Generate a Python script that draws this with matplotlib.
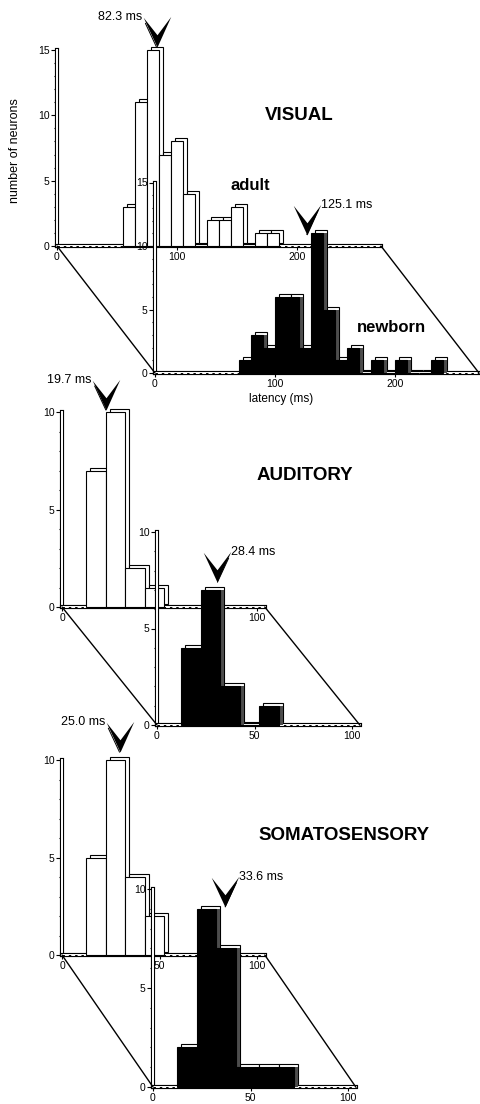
import matplotlib.pyplot as plt
import matplotlib.transforms as mtransforms
import matplotlib.patheffects as pe
from matplotlib.patches import ConnectionPatch
from matplotlib.path import Path
import numpy as np

plt.rcParams['font.family'] = ['Liberation Sans', 'DejaVu Sans']

W, H, DPI = 480, 1104, 100

# latency histograms, 10 ms bins: left edge of first bin (ms) and counts
bin_width = 10
vis_adult_start = 55
vis_adult_counts = [3, 11, 15, 7, 8, 4, 0, 2, 2, 3, 0, 1, 1]
vis_newborn_start = 70
vis_newborn_counts = [1, 3, 2, 6, 6, 2, 11, 5, 1, 2, 0, 1, 0, 1, 0, 0, 1]
aud_adult_start = 12.5
aud_adult_counts = [7, 10, 2, 1]
aud_newborn_start = 12.5
aud_newborn_counts = [4, 7, 2, 0, 1]
som_adult_start = 12.5
som_adult_counts = [5, 10, 4, 2]
som_newborn_start = 12.5
som_newborn_counts = [2, 9, 7, 1, 1, 1]

# mean latency arrows (label, position in ms, height in neurons)
mean_labels = ['82.3 ms', '125.1 ms', '19.7 ms', '28.4 ms', '25.0 ms', '33.6 ms']
arrow_x = [83, 126.5, 22.5, 31, 29.5, 37]
arrow_y = [15.2, 10.9, 10.1, 7.4, 10.4, 9.1]

fig = plt.figure(figsize=(W / DPI, H / DPI), dpi=DPI)

# pixel layout of each histogram: origin, px per ms, px per neuron, xmax, ymax
layout = [
    ((57, 246), 1.2, 13.07, 270, 15),
    ((155, 373), 1.2, 12.7, 270, 15),
    ((62, 607), 1.95, 19.5, 104, 10),
    ((157, 725), 1.95, 19.3, 104, 10),
    ((62, 955), 1.95, 19.5, 104, 10),
    ((153, 1087), 1.95, 19.8, 104, 10),
]
xticks = [[0, 100, 200], [0, 100, 200], [0, 100], [0, 50, 100], [0, 50, 100], [0, 50, 100]]
starts = [vis_adult_start, vis_newborn_start, aud_adult_start, aud_newborn_start,
          som_adult_start, som_newborn_start]
counts = [vis_adult_counts, vis_newborn_counts, aud_adult_counts, aud_newborn_counts,
          som_adult_counts, som_newborn_counts]

slab = [pe.Stroke(linewidth=3.0, foreground='black'), pe.Normal()]
chevron = Path([(0, 0), (-0.45, 0.97), (0, 0.4), (0.45, 1.0), (0, 0)],
               [Path.MOVETO, Path.LINETO, Path.LINETO, Path.LINETO, Path.CLOSEPOLY])

axes = []
for i, ((ox, oy), sx, sy, xmax, ymax) in enumerate(layout):
    ax = fig.add_axes([ox / W, 1 - oy / H, xmax * sx / W, ymax * sy / H])
    ax.set_xlim(0, xmax)
    ax.set_ylim(0, ymax)
    ax.patch.set_visible(False)
    for side in ['top', 'right']:
        ax.spines[side].set_visible(False)
    for side in ['left', 'bottom']:
        ax.spines[side].set_color('white')
        ax.spines[side].set_linewidth(1.4)
        ax.spines[side].set_path_effects(slab)
    ax.axhline(0, color='black', lw=0.7, ls=(0, (2.5, 4)), zorder=2.6, clip_on=False)
    ax.set_yticks(np.arange(0, ymax + 1, 5))
    ax.set_yticks(np.arange(0, ymax + 1, 1), minor=True)
    ax.set_xticks(xticks[i])
    ax.tick_params(axis='y', which='major', length=4.5, width=0.8, pad=1, labelsize=7.5)
    ax.tick_params(axis='y', which='minor', length=2.5, width=0.8)
    ax.tick_params(axis='x', which='major', length=3, width=0.8, pad=1.5, labelsize=7.5)

    x = starts[i] + bin_width * np.arange(len(counts[i]))
    back = ax.transData + mtransforms.ScaledTranslation(4 / DPI, 3 / DPI, fig.dpi_scale_trans)
    side_t = ax.transData + mtransforms.ScaledTranslation(4 / DPI, 0, fig.dpi_scale_trans)
    ax.bar(x, counts[i], width=bin_width, align='edge', color='white', edgecolor='black',
           lw=0.8, transform=back, clip_on=False, zorder=3)
    if i % 2 == 0:
        ax.bar(x, counts[i], width=bin_width, align='edge', color='white', edgecolor='black',
               lw=0.8, clip_on=False, zorder=3.2)
    else:
        ax.bar(x, counts[i], width=bin_width, align='edge', color='0.3', lw=0,
               transform=side_t, clip_on=False, zorder=3.1)
        ax.bar(x, counts[i], width=bin_width, align='edge', color='black', edgecolor='black',
               lw=0.8, clip_on=False, zorder=3.2)

    # mean arrow
    ax.plot([arrow_x[i]], [arrow_y[i]], marker=chevron, markersize=44, color='black',
            markeredgewidth=0, clip_on=False, zorder=6)
    left = i % 2 == 0
    ax.annotate(mean_labels[i], xy=(arrow_x[i], arrow_y[i]),
                xytext=(-14 if left else 14, 30), textcoords='offset pixels',
                ha='right' if left else 'left', va='center', fontsize=9,
                annotation_clip=False, zorder=5,
                arrowprops=dict(arrowstyle='-', lw=0.7, color='black', shrinkA=0, shrinkB=0,
                                relpos=(1, 0.5) if left else (0, 0.5)))
    axes.append(ax)

# perspective lines joining adult and newborn planes
for a, b in [(axes[0], axes[1]), (axes[2], axes[3]), (axes[4], axes[5])]:
    xm = a.get_xlim()[1]
    for xv in [0, xm]:
        fig.add_artist(ConnectionPatch(xyA=(xv, 0), coordsA=a.transData, xyB=(xv, 0),
                                       coordsB=b.transData, color='black', lw=1))

axes[0].text(161, 4.6, 'adult', fontsize=12, fontweight='bold', ha='center', va='center')
axes[1].text(197, 3.6, 'newborn', fontsize=12, fontweight='bold', ha='center', va='center')
axes[1].annotate('latency (ms)', xy=(105, 0), xytext=(0, -26), textcoords='offset pixels',
                 ha='center', va='center', fontsize=8.5, annotation_clip=False)

fig.text(15 / W, 1 - 151 / H, 'number of neurons', rotation=90, ha='center', va='center',
         fontsize=9)
fig.text(265 / W, 1 - 116 / H, 'VISUAL', fontsize=13.5, fontweight='bold', va='center')
fig.text(257 / W, 1 - 476 / H, 'AUDITORY', fontsize=13.5, fontweight='bold', va='center')
fig.text(258 / W, 1 - 835 / H, 'SOMATOSENSORY', fontsize=13.5, fontweight='bold', va='center')

fig.savefig('out.png', dpi=DPI)
